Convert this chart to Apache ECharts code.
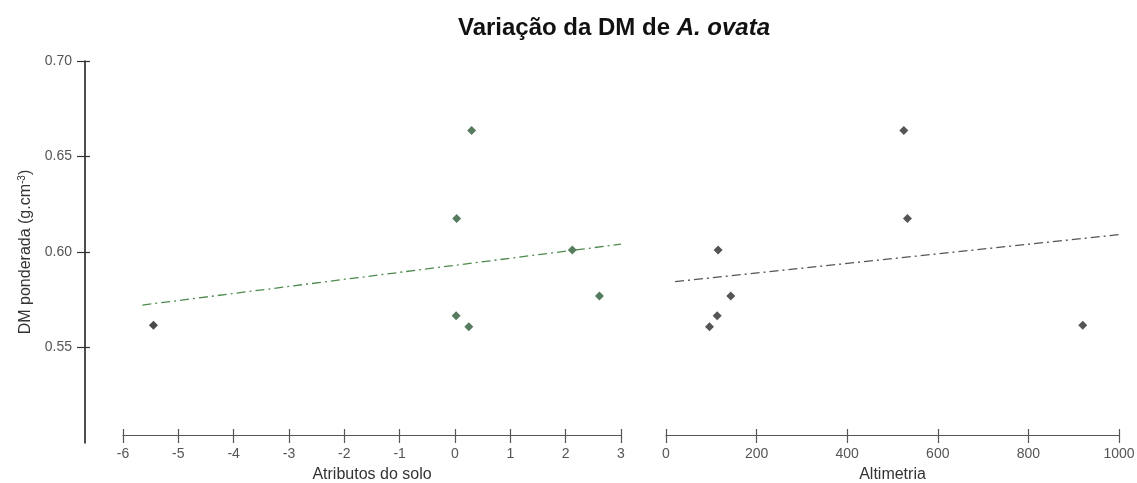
<!DOCTYPE html>
<html>
<head>
<meta charset="utf-8">
<script src="https://cdn.jsdelivr.net/npm/echarts@6/dist/echarts.min.js"></script>
<style>html,body{margin:0;padding:0;background:#fff;}#c{width:1137px;height:483px;}</style>
</head>
<body>
<div id="c"></div>
<script>
// Data
const dmValues = [0.5616, 0.6175, 0.6636, 0.5666, 0.5608, 0.6011, 0.5769];
const soilValues = [-5.45, 0.03, 0.30, 0.02, 0.25, 2.12, 2.61];
const altValues = [920, 533, 525, 113, 96, 115, 143];
const soilTrend = [[-5.65, 0.5722], [3.0, 0.6041]];
const altTrend = [[20, 0.5845], [1000, 0.6091]];
const yTicks = [0.55, 0.60, 0.65, 0.70];
const soilTicks = [-6, -5, -4, -3, -2, -1, 0, 1, 2, 3];
const altTicks = [0, 200, 400, 600, 800, 1000];

const soilPts = soilValues.map((x, i) => ({
  value: [x, dmValues[i]],
  itemStyle: { color: x < -5 ? '#1c1c1c' : '#2d5a37' }
}));
const altPts = altValues.map((x, i) => [x, dmValues[i]]);

const font = 'Liberation Sans, Arial, sans-serif';
const labelStyle = { color: '#555', fontSize: 14, fontFamily: font };

function xAxisBase(grid, min, max, interval, ticks, name) {
  return [{
    gridIndex: grid, type: 'value', min: min, max: max, interval: interval,
    offset: -8,
    splitLine: { show: false },
    axisLine: { onZero: false, lineStyle: { color: '#555', width: 1.2 } },
    axisTick: { show: true, length: 8, lineStyle: { color: '#555', width: 1.2 }, customValues: ticks },
    axisLabel: Object.assign({ margin: 12, customValues: ticks, formatter: v => String(v) }, labelStyle),
    name: name, nameLocation: 'middle', nameGap: 32,
    nameTextStyle: { color: '#333', fontSize: 16, fontFamily: font }
  }, {
    gridIndex: grid, type: 'value', min: min, max: max, interval: interval,
    offset: -8, position: 'bottom',
    splitLine: { show: false },
    axisLine: { show: false, onZero: false },
    axisLabel: { show: false },
    axisTick: { show: true, inside: true, length: 6, lineStyle: { color: '#555', width: 1.2 }, customValues: ticks }
  }];
}

const option = {
  backgroundColor: '#fff',
  animation: false,
  title: {
    text: '{b|Variação da DM de }{i|A. ovata}',
    left: 609, top: 11, textAlign: 'center',
    textStyle: {
      rich: {
        b: { fontSize: 24, fontWeight: 'bold', color: '#111', fontFamily: font },
        i: { fontSize: 24, fontStyle: 'italic', color: '#111', fontFamily: font }
      }
    }
  },
  grid: [
    { left: 123, right: 516, top: 61, bottom: 40, containLabel: false, outerBoundsMode: 'none' },
    { left: 666, right: 18, top: 61, bottom: 40, containLabel: false, outerBoundsMode: 'none' }
  ],
  xAxis: [].concat(
    xAxisBase(0, -6, 3, 1, soilTicks, 'Atributos do solo'),
    xAxisBase(1, 0, 1000, 200, altTicks, 'Altimetria')
  ),
  yAxis: [{
    gridIndex: 0, type: 'value', min: 0.50, max: 0.70, interval: 0.05,
    offset: 38,
    splitLine: { show: false },
    axisLine: { show: true, onZero: false, lineStyle: { color: '#222', width: 1.6 } },
    axisTick: { show: true, length: 8, lineStyle: { color: '#333', width: 1.2 }, customValues: yTicks },
    axisLabel: Object.assign({ margin: 13, customValues: yTicks, formatter: v => v.toFixed(2) }, labelStyle),
    name: 'DM ponderada (g.cm{sup|-3})',
    nameLocation: 'middle', nameGap: 50, nameRotate: 90,
    nameTextStyle: {
      color: '#333', fontSize: 16, fontFamily: font,
      rich: { sup: { fontSize: 10, color: '#333', fontFamily: font, padding: [0, 0, 8, 0] } }
    }
  }, {
    gridIndex: 0, type: 'value', min: 0.50, max: 0.70, interval: 0.05,
    offset: 38, position: 'left',
    splitLine: { show: false },
    axisLine: { show: false, onZero: false },
    axisLabel: { show: false },
    axisTick: { show: true, inside: true, length: 5, lineStyle: { color: '#333', width: 1.2 }, customValues: yTicks }
  }, {
    gridIndex: 1, type: 'value', min: 0.50, max: 0.70, interval: 0.05,
    show: false
  }],
  series: [{
    type: 'scatter', xAxisIndex: 0, yAxisIndex: 0,
    symbol: 'diamond', symbolSize: 9,
    data: soilPts
  }, {
    type: 'line', xAxisIndex: 0, yAxisIndex: 0,
    showSymbol: false, symbol: 'none',
    lineStyle: { color: '#4e8a4e', width: 1.3, type: [9, 4, 2, 4] },
    data: soilTrend
  }, {
    type: 'scatter', xAxisIndex: 2, yAxisIndex: 2,
    symbol: 'diamond', symbolSize: 9,
    itemStyle: { color: '#2a2a2a' },
    data: altPts
  }, {
    type: 'line', xAxisIndex: 2, yAxisIndex: 2,
    showSymbol: false, symbol: 'none',
    lineStyle: { color: '#555', width: 1.3, type: [9, 4, 2, 4] },
    data: altTrend
  }]
};

const chart = echarts.init(document.getElementById('c'), null, { renderer: 'canvas' });
chart.setOption(option);
</script>
</body>
</html>
